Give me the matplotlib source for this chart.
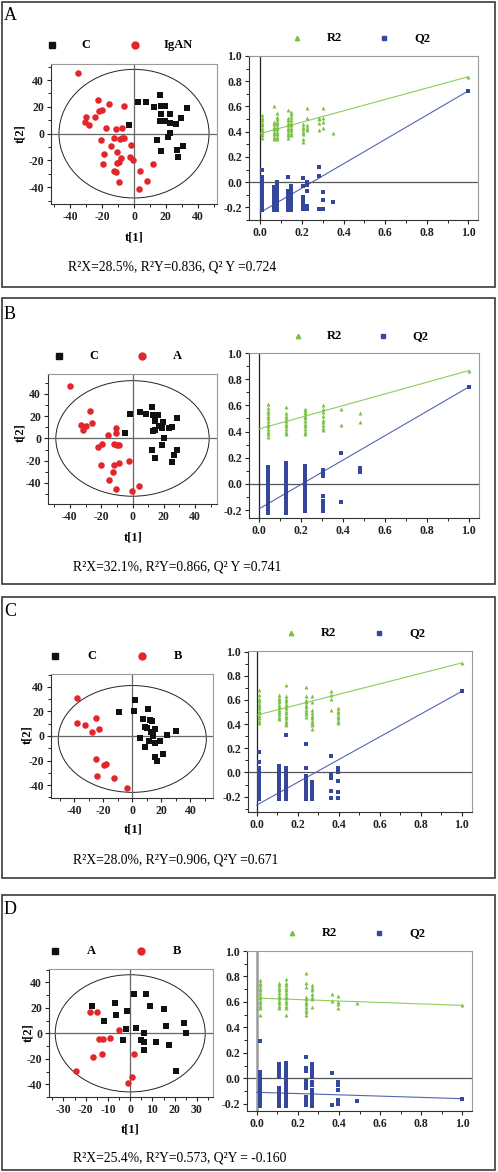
import matplotlib
matplotlib.use("Agg")
import matplotlib.pyplot as plt
from matplotlib.patches import Rectangle, Ellipse
from matplotlib.lines import Line2D
from matplotlib.ticker import MultipleLocator, FormatStrFormatter

plt.rcParams['font.family'] = ['Liberation Serif', 'DejaVu Serif']
plt.rcParams['font.weight'] = 'bold'
plt.rcParams['axes.unicode_minus'] = False

# ---- score plots (t[1] vs t[2]) ----
a_c_x = [-3.1, 2.5, 7.7, 12.4, 16.0, 17.2, 19.3, 16.8, 22.6, 33.4, 29.4, 16.0, 17.2, 19.3,
         22.6, 26.1, 22.6, 21.1, 14.1, 16.8, 30.7, 26.9, 27.8]
a_c_y = [6.3, 24.0, 24.0, 19.8, 28.5, 20.3, 20.8, 15.0, 15.0, 19.0, 12.0, 9.8, 9.3, 9.8,
         7.8, 7.3, 0.3, -2.3, -4.8, -12.8, -9.0, -12.0, -17.5]
a_igan_x = [-35.2, -22.6, -21.8, -19.9, -15.5, -6.0, -30.3, -30.5, -28.2, -24.2, -17.6, -11.4,
            -7.7, -20.7, -12.6, -14.1, -8.7, -7.3, -6.0, -1.9, -10.4, -18.7, -8.3, -2.5,
            -0.6, -10.6, -9.1, -19.7, 11.6, -12.6, -11.0, 3.5, -9.5, 7.9, 3.1]
a_igan_y = [45.0, 25.5, 17.0, 18.0, 22.0, 20.8, 12.8, 8.8, 6.8, 12.8, 4.3, 3.3,
            4.5, -4.5, -3.3, -9.3, -4.3, -3.3, -3.0, -8.8, -13.5, -15.3, -17.8, -17.5,
            -20.0, -21.8, -21.3, -22.3, -22.8, -27.8, -28.8, -27.5, -36.3, -35.5, -41.3]

b_c_x = [-1.9, -4.5, 5.1, 8.6, 12.4, 12.8, 16.0, 14.1, 19.7, 28.4, 16.9, 18.8, 13.0, 14.5,
         23.3, 25.2, 19.9, 19.0, 12.4, 28.7, 14.5, 26.3, 25.4]
b_c_y = [21.7, 4.5, 24.1, 21.7, 28.3, 20.8, 20.8, 16.0, 15.1, 18.4, 10.8, 9.3, 6.6, 7.2,
         9.0, 9.9, 0.3, -6.0, -10.2, -10.2, -18.0, -14.8, -21.0]
b_a_x = [-40.0, -27.4, -32.7, -29.7, -31.7, -25.9, -10.3, -10.7, -15.6, -19.7, -22.2, -11.8,
         -10.1, -8.8, -20.3, -11.8, -8.8, -2.4, -12.2, -15.0, -10.3, -0.4, 3.9]
b_a_y = [47.0, 25.0, 12.0, 11.1, 7.2, 13.9, 9.3, 4.5, 2.7, -4.8, -7.8, -4.8,
         -6.3, -6.3, -24.0, -23.5, -22.3, -19.9, -29.8, -37.3, -45.5, -47.0, -43.0]

c_c_x = [-9.2, 1.6, 1.1, 11.0, 7.6, 12.4, 13.6, 9.0, 10.1, 15.6, 12.6, 14.0, 14.5, 5.1,
         11.3, 15.9, 18.9, 9.0, 30.1, 24.1, 20.9, 15.6, 17.0]
c_c_y = [19.7, 29.7, 20.5, 22.2, 13.8, 13.2, 12.4, 7.0, 6.8, 5.7, 3.0, 0.3, 1.6, -1.6,
         -4.3, -5.4, -4.3, -9.2, 4.1, 1.1, -14.6, -17.3, -20.3]
c_b_x = [-37.9, -25.3, -37.9, -32.6, -23.0, -27.8, -24.8, -18.4, -19.8, -24.4, -12.6, -3.7]
c_b_y = [31.1, 14.6, 10.8, 8.6, 5.7, 3.0, -18.6, -23.0, -23.5, -32.2, -34.0, -42.7]

d_a_x = [-17.0, -6.9, -6.6, -1.6, -11.9, -2.1, -3.1, 2.5, 1.5, 6.9, 9.0, 15.4, 16.3, 24.2,
         25.2, 6.3, 4.9, 6.3, 11.8, 17.5, 6.3, 20.6]
d_a_y = [21.5, 24.1, 14.4, 17.5, 9.4, 3.4, -5.0, 4.5, 30.6, 30.6, 21.2, 19.1, 5.8, 8.4,
         0.5, 0.5, -5.5, -6.8, -7.1, -8.9, -13.4, -29.3]
d_b_x = [-17.9, -15.1, -5.2, -14.0, -12.4, -9.3, -12.5, -16.6, 1.6, 0.6, -1.2, -24.3]
d_b_y = [17.0, 16.5, 2.4, -4.7, -4.5, -3.4, -16.0, -18.6, -16.0, -34.0, -39.0, -29.8]

# ---- permutation tests (R2 / Q2 columns) ----
a_perm_x = [0.008, 0.065, 0.08, 0.135, 0.15, 0.205, 0.225, 0.28, 0.30, 0.35]
a_r2_cols = [
    [0.35, 0.37, 0.39, 0.41, 0.43, 0.45, 0.47, 0.49, 0.51, 0.53],
    [0.34, 0.36, 0.38, 0.40, 0.42, 0.44, 0.46, 0.48, 0.60],
    [0.34, 0.36, 0.38, 0.40, 0.42, 0.44, 0.46, 0.48, 0.50, 0.52, 0.55],
    [0.35, 0.37, 0.39, 0.41, 0.43, 0.45, 0.47, 0.49, 0.51, 0.57],
    [0.37, 0.39, 0.41, 0.43, 0.45, 0.47, 0.49, 0.52, 0.54, 0.56],
    [0.32, 0.34, 0.38, 0.40, 0.42, 0.44, 0.46],
    [0.41, 0.43, 0.45, 0.51, 0.59],
    [0.41, 0.47, 0.50, 0.51],
    [0.43, 0.48, 0.51, 0.59],
    [0.39],
]
a_q2_cols = [
    [0.10, 0.04, 0.02, 0.00, -0.02, -0.04, -0.06, -0.08, -0.10, -0.12, -0.14, -0.16, -0.18, -0.20, -0.22],
    [-0.04, -0.06, -0.08, -0.10, -0.12, -0.14, -0.16, -0.18, -0.20, -0.22],
    [0.00, -0.02, -0.05, -0.08, -0.11, -0.14, -0.17, -0.20, -0.22],
    [0.04, -0.07, -0.09, -0.11, -0.13, -0.15, -0.17, -0.19, -0.21, -0.22],
    [-0.03, -0.06, -0.09, -0.12, -0.14, -0.16, -0.18, -0.20, -0.22],
    [0.03, -0.03, -0.12, -0.14, -0.16, -0.18, -0.21],
    [0.00, -0.02, -0.07, -0.19, -0.21],
    [0.12, 0.05, -0.21],
    [-0.08, -0.14, -0.21],
    [-0.16],
]
a_r2_full, a_q2_full = 0.836, 0.724
a_r2_icpt, a_q2_icpt = 0.385, -0.24

b_perm_x = [0.043, 0.13, 0.22, 0.306, 0.39, 0.48]
b_r2_cols = [
    [0.36, 0.38, 0.40, 0.42, 0.44, 0.46, 0.48, 0.50, 0.52, 0.54, 0.56, 0.58, 0.61],
    [0.38, 0.40, 0.42, 0.44, 0.46, 0.48, 0.50, 0.52, 0.54, 0.585],
    [0.38, 0.40, 0.42, 0.44, 0.46, 0.48, 0.50, 0.52, 0.54, 0.56, 0.57],
    [0.41, 0.43, 0.45, 0.47, 0.49, 0.52, 0.55, 0.57, 0.60],
    [0.45, 0.57],
    [0.47, 0.54],
]
b_q2_cols = [
    [0.13, 0.11, 0.08, 0.06, 0.04, 0.02, 0.00, -0.02, -0.04, -0.06, -0.08, -0.10, -0.12, -0.14, -0.16, -0.18, -0.20, -0.22],
    [0.16, 0.14, 0.12, 0.10, 0.08, 0.06, 0.04, 0.02, 0.00, -0.02, -0.04, -0.06, -0.08, -0.10, -0.12, -0.14, -0.16, -0.18, -0.20, -0.22],
    [0.14, 0.12, 0.10, 0.08, 0.06, 0.04, 0.02, 0.00, -0.02, -0.04, -0.06, -0.08, -0.10, -0.12, -0.14, -0.16, -0.18, -0.21],
    [0.11, 0.09, 0.06, -0.09, -0.13, -0.16, -0.19, -0.21],
    [0.24, -0.14],
    [0.12, 0.09],
]
b_r2_full, b_q2_full = 0.866, 0.741
b_r2_icpt, b_q2_icpt = 0.42, -0.19

c_perm_x = [0.011, 0.11, 0.143, 0.24, 0.27, 0.365, 0.395]
c_r2_cols = [
    [0.41, 0.43, 0.45, 0.47, 0.49, 0.51, 0.53, 0.55, 0.57, 0.59, 0.61, 0.64, 0.68],
    [0.44, 0.46, 0.48, 0.50, 0.52, 0.54, 0.56, 0.58, 0.60, 0.62, 0.64],
    [0.39, 0.41, 0.43, 0.45, 0.47, 0.49, 0.51, 0.53, 0.55, 0.57, 0.59, 0.61, 0.63, 0.72],
    [0.46, 0.48, 0.50, 0.52, 0.54, 0.56, 0.58, 0.60, 0.63, 0.705],
    [0.36, 0.39, 0.41, 0.43, 0.45, 0.47, 0.49, 0.52, 0.58, 0.63],
    [0.52, 0.61, 0.64, 0.675],
    [0.41, 0.43, 0.45, 0.47, 0.49, 0.51, 0.53],
]
c_q2_cols = [
    [0.17, 0.085, 0.035, 0.01, -0.01, -0.03, -0.05, -0.07, -0.09, -0.11, -0.13, -0.15, -0.17, -0.19, -0.22],
    [0.05, 0.03, 0.01, -0.01, -0.03, -0.05, -0.07, -0.09, -0.11, -0.13, -0.15, -0.17, -0.19, -0.22],
    [0.31, 0.04, 0.02, 0.00, -0.02, -0.04, -0.06, -0.08, -0.10, -0.12, -0.14, -0.16, -0.18, -0.20, -0.22],
    [0.235, 0.04, -0.03, -0.05, -0.07, -0.09, -0.11, -0.13, -0.15, -0.17, -0.19, -0.22],
    [-0.08, -0.10, -0.12, -0.14, -0.16, -0.18, -0.20, -0.22],
    [0.14, -0.015, -0.045, -0.155, -0.215],
    [0.035, 0.02, 0.00, -0.07, -0.16, -0.215],
]
c_r2_full, c_q2_full = 0.906, 0.671
c_r2_icpt, c_q2_icpt = 0.474, -0.27

d_perm_x = [0.016, 0.11, 0.143, 0.24, 0.27, 0.365, 0.397, 0.49]
d_r2_cols = [
    [0.50, 0.55, 0.57, 0.59, 0.61, 0.63, 0.65, 0.67, 0.69, 0.71, 0.73, 0.75, 0.77],
    [0.55, 0.57, 0.59, 0.61, 0.63, 0.65, 0.67, 0.69, 0.71, 0.73, 0.75],
    [0.50, 0.55, 0.57, 0.59, 0.61, 0.63, 0.65, 0.67, 0.69, 0.71, 0.73, 0.75, 0.78],
    [0.50, 0.52, 0.54, 0.56, 0.58, 0.60, 0.62, 0.64, 0.715, 0.75, 0.825],
    [0.56, 0.62, 0.64, 0.66, 0.69, 0.71, 0.73],
    [0.61, 0.66],
    [0.55, 0.585, 0.60, 0.65],
    [0.59],
]
d_q2_cols = [
    [0.29, 0.05, 0.02, 0.00, -0.02, -0.04, -0.06, -0.08, -0.10, -0.12, -0.14, -0.16, -0.18, -0.20, -0.22],
    [0.11, 0.09, 0.07, 0.05, 0.03, 0.01, -0.08, -0.10, -0.12, -0.14, -0.16, -0.18, -0.20, -0.22],
    [0.12, 0.10, 0.08, 0.06, 0.04, 0.02, 0.00, -0.02, -0.04, -0.06, -0.08, -0.10, -0.12, -0.14, -0.16, -0.18, -0.20, -0.22],
    [0.17, 0.08, 0.06, -0.02, -0.04, -0.06, -0.08, -0.15, -0.18, -0.21],
    [0.11, 0.09, 0.06, 0.03, 0.01, -0.03, -0.05, -0.09, -0.12, -0.14, -0.17, -0.20, -0.22],
    [0.04, -0.21],
    [-0.03, -0.05, -0.09, -0.17, -0.20],
    [-0.175],
]
d_r2_full, d_q2_full = 0.573, -0.160
d_r2_icpt, d_q2_icpt = 0.63, -0.11

panel_letters = ['A', 'B', 'C', 'D']
group_labels = [('C', 'IgAN'), ('C', 'A'), ('C', 'B'), ('A', 'B')]
captions = ['R²X=28.5%, R²Y=0.836, Q² Y =0.724',
            'R²X=32.1%, R²Y=0.866, Q² Y =0.741',
            'R²X=28.0%, R²Y=0.906, Q²Y =0.671',
            'R²X=25.4%, R²Y=0.573, Q²Y = -0.160']

W, H = 498, 1172
BLACK = '#111111'
RED = '#e3262b'
GREEN = '#79c043'
BLUE = '#34479b'
GREEN_LINE = '#8ccd5c'
BLUE_LINE = '#5364b4'

fig = plt.figure(figsize=(W / 100, H / 100), dpi=100)


def fx(x):
    return x / W


def fy(y):
    return 1 - y / H


def px_axes(x0, y0, x1, y1):
    return fig.add_axes([fx(x0), fy(y1), (x1 - x0) / W, (y1 - y0) / H])


def style_axes(ax, xmaj, xmin, ymaj, ymin):
    ax.xaxis.set_major_locator(MultipleLocator(xmaj))
    ax.xaxis.set_minor_locator(MultipleLocator(xmin))
    ax.yaxis.set_major_locator(MultipleLocator(ymaj))
    ax.yaxis.set_minor_locator(MultipleLocator(ymin))
    ax.tick_params(which='major', direction='out', length=3, width=0.8, pad=2,
                   labelsize=8.5, colors='#222222')
    ax.tick_params(which='minor', direction='out', length=2, width=0.6)
    for s in ['top', 'right']:
        ax.spines[s].set_color('#9a9a9a')
    for s in ['left', 'bottom']:
        ax.spines[s].set_color('#333333')
    for s in ax.spines.values():
        s.set_linewidth(0.8)


def legend_row(y, xs, markers, labels):
    for (mx, tx), (mk, col, ms), lab in zip(xs, markers, labels):
        fig.add_artist(Line2D([fx(mx)], [fy(y)], marker=mk, color=col, markersize=ms,
                              linestyle='none', transform=fig.transFigure))
        fig.text(fx(tx), fy(y), lab, ha='center', va='center', fontsize=9)


def draw_panel(i, frame, label_xy, sc_box, sc_lim, sc_tick, ellipse, sc_leg_y, sc_leg_x,
               t2_xy, t1_xy, groups, pm_box, pm_lim, pm_leg_y, pm_leg_x, perm, cap_xy):
    # outer frame
    x0, y0, x1, y1 = frame
    fig.add_artist(Rectangle((fx(x0), fy(y1)), (x1 - x0) / W, (y1 - y0) / H, fill=False,
                             ec='#3a3a3a', lw=1.2, transform=fig.transFigure))
    fig.text(fx(label_xy[0]), fy(label_xy[1]), panel_letters[i], ha='left', va='center',
             fontsize=13, fontweight='normal')

    # score plot
    ax = px_axes(*sc_box)
    (gx1, gy1), (gx2, gy2) = groups
    ax.scatter(gx1, gy1, marker='s', s=19, color=BLACK, lw=0, zorder=3)
    ax.scatter(gx2, gy2, marker='o', s=22, color=RED, lw=0, zorder=3)
    ex, ey, ew, eh = ellipse
    ax.add_patch(Ellipse((ex, ey), 2 * ew, 2 * eh, fill=False, ec='#222222', lw=0.7))
    ax.axhline(0, color='#666666', lw=0.9, zorder=1)
    ax.axvline(0, color='#666666', lw=0.9, zorder=1)
    ax.set_xlim(sc_lim[0])
    ax.set_ylim(sc_lim[1])
    style_axes(ax, sc_tick[0], sc_tick[1], 20, 10)
    legend_row(sc_leg_y, sc_leg_x, [('s', BLACK, 4.5), ('o', RED, 5)], group_labels[i])
    fig.text(fx(t2_xy[0]), fy(t2_xy[1]), 't[2]', rotation=90, ha='center', va='center',
             fontsize=9)
    fig.text(fx(t1_xy[0]), fy(t1_xy[1]), 't[1]', ha='center', va='center', fontsize=9)

    # permutation plot
    px, r2_cols, q2_cols, r2_full, q2_full, r2_icpt, q2_icpt = perm
    ax2 = px_axes(*pm_box)
    for xv, col in zip(px, r2_cols):
        ax2.scatter([xv] * len(col), col, marker='^', s=8, color=GREEN, lw=0, zorder=3)
    for xv, col in zip(px, q2_cols):
        ax2.scatter([xv] * len(col), col, marker='s', s=6, color=BLUE, lw=0, zorder=3)
    ax2.scatter([1.0], [r2_full], marker='^', s=8, color=GREEN, lw=0, zorder=3)
    ax2.scatter([1.0], [q2_full], marker='s', s=6, color=BLUE, lw=0, zorder=3)
    ax2.plot([0, 1], [r2_icpt, r2_full], color=GREEN_LINE, lw=0.8, zorder=2)
    ax2.plot([0, 1], [q2_icpt, q2_full], color=BLUE_LINE, lw=0.8, zorder=2)
    ax2.axhline(0, color='#555555', lw=0.9, zorder=1)
    ax2.axvline(0, color='#222222' if i < 3 else '#9a9a9a', lw=0.9 if i < 3 else 1.8, zorder=1)
    ax2.set_xlim(pm_lim[0])
    ax2.set_ylim(pm_lim[1])
    style_axes(ax2, 0.2, 0.1, 0.2, 0.1)
    ax2.xaxis.set_major_formatter(FormatStrFormatter('%.1f'))
    ax2.yaxis.set_major_formatter(FormatStrFormatter('%.1f'))
    legend_row(pm_leg_y, pm_leg_x, [('^', GREEN, 3.2), ('s', BLUE, 2.8)], ('R2', 'Q2'))

    fig.text(fx(cap_xy[0]), fy(cap_xy[1]), captions[i], ha='left', va='center', fontsize=9.8,
             fontweight='normal')


draw_panel(0, (1.5, 1.5, 495, 287), (4, 15),
           (51, 64, 217, 204), ((-52, 52), (-52.5, 52)), (20, 10), (0, 0, 47, 48),
           45, [(52, 86), (135, 178)], (20, 134), (134, 238),
           ((a_c_x, a_c_y), (a_igan_x, a_igan_y)),
           (249, 56, 478, 220), ((-0.054, 1.046), (-0.30, 1.0)), 38, [(297, 334), (384, 422)],
           (a_perm_x, a_r2_cols, a_q2_cols, a_r2_full, a_q2_full, a_r2_icpt, a_q2_icpt),
           (68, 267))

draw_panel(1, (1.5, 298, 495, 584), (4, 315),
           (48, 374, 217, 504), ((-54, 54), (-59, 58)), (20, 10), (0, 0, 49, 52),
           356, [(59, 94), (142, 177)], (20, 433), (133, 537),
           ((b_c_x, b_c_y), (b_a_x, b_a_y)),
           (249, 353, 479, 518), ((-0.048, 1.048), (-0.26, 1.0)), 336, [(298, 334), (383, 420)],
           (b_perm_x, b_r2_cols, b_q2_cols, b_r2_full, b_q2_full, b_r2_icpt, b_q2_icpt),
           (73, 567))

draw_panel(2, (1.5, 597, 495, 878), (4, 612),
           (51, 674, 213, 798), ((-56, 55.6), (-50.5, 50.5)), (20, 10), (0, -2.4, 51, 43.5),
           656, [(55, 92), (142, 178)], (27, 735), (133, 830),
           ((c_c_x, c_c_y), (c_b_x, c_b_y)),
           (248, 651, 472, 812), ((-0.042, 1.05), (-0.327, 1.005)), 633, [(291, 328), (379, 417)],
           (c_perm_x, c_r2_cols, c_q2_cols, c_r2_full, c_q2_full, c_r2_icpt, c_q2_icpt),
           (73, 860))

draw_panel(3, (1.5, 895, 495, 1170), (4, 909),
           (49, 969, 213, 1097), ((-36.5, 37.2), (-50, 50.5)), (10, 5), (0, 0, 33.7, 46),
           951, [(55, 91), (141, 177)], (28, 1033), (130, 1130),
           ((d_a_x, d_a_y), (d_b_x, d_b_y)),
           (247, 951, 472, 1111), ((-0.047, 1.047), (-0.257, 1.0)), 933, [(292, 329), (379, 417)],
           (d_perm_x, d_r2_cols, d_q2_cols, d_r2_full, d_q2_full, d_r2_icpt, d_q2_icpt),
           (73, 1158))

fig.savefig('out.png', dpi=100)
